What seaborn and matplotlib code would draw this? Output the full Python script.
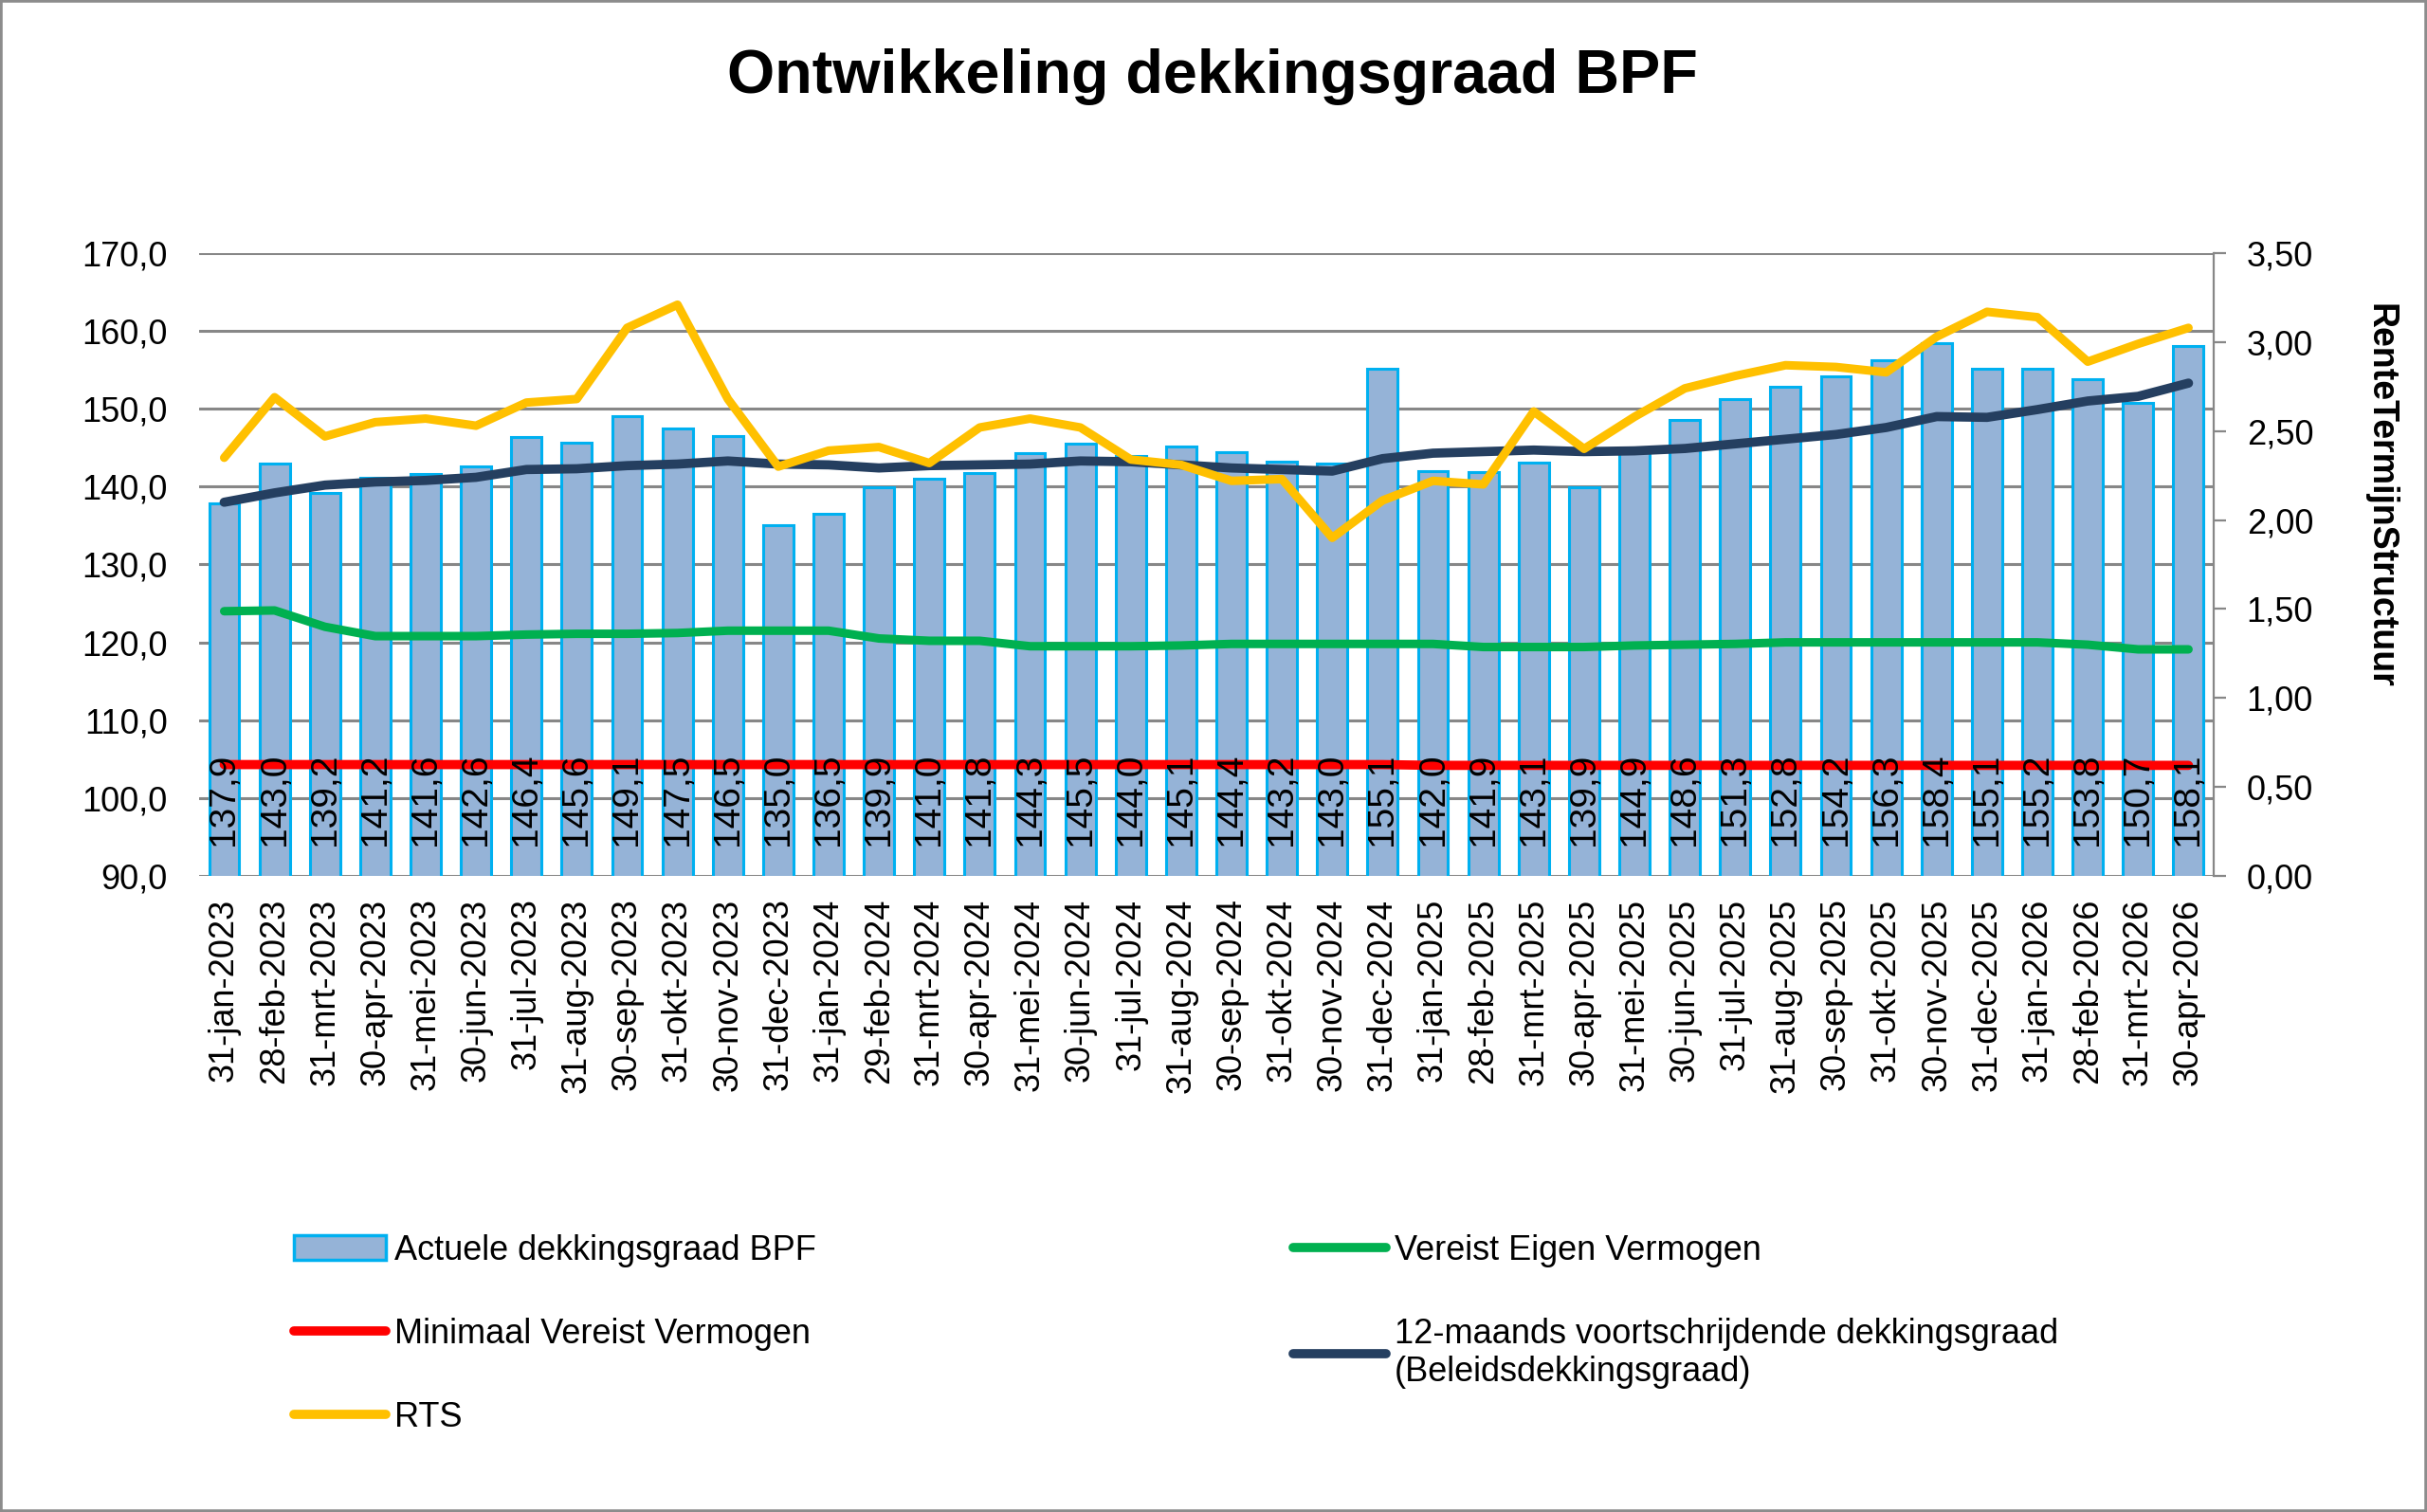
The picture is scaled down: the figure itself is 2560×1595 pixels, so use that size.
import matplotlib
matplotlib.use("Agg")
import matplotlib.pyplot as plt
import numpy as np
import pandas as pd
import seaborn as sns
from matplotlib.lines import Line2D
from matplotlib.patches import Patch, Rectangle
from matplotlib.ticker import FuncFormatter

# ---------------------------------------------------------------------------
# Data
# ---------------------------------------------------------------------------

dates = [
    "31-jan-2023", "28-feb-2023", "31-mrt-2023", "30-apr-2023", "31-mei-2023",
    "30-jun-2023", "31-jul-2023", "31-aug-2023", "30-sep-2023", "31-okt-2023",
    "30-nov-2023", "31-dec-2023", "31-jan-2024", "29-feb-2024", "31-mrt-2024",
    "30-apr-2024", "31-mei-2024", "30-jun-2024", "31-jul-2024", "31-aug-2024",
    "30-sep-2024", "31-okt-2024", "30-nov-2024", "31-dec-2024", "31-jan-2025",
    "28-feb-2025", "31-mrt-2025", "30-apr-2025", "31-mei-2025", "30-jun-2025",
    "31-jul-2025", "31-aug-2025", "30-sep-2025", "31-okt-2025", "30-nov-2025",
    "31-dec-2025", "31-jan-2026", "28-feb-2026", "31-mrt-2026", "30-apr-2026",
]

actueel = [
    137.9, 143.0, 139.2, 141.2, 141.6, 142.6, 146.4, 145.6, 149.1, 147.5,
    146.5, 135.0, 136.5, 139.9, 141.0, 141.8, 144.3, 145.5, 144.0, 145.1,
    144.4, 143.2, 143.0, 155.1, 142.0, 141.9, 143.1, 139.9, 144.9, 148.6,
    151.3, 152.8, 154.2, 156.3, 158.4, 155.1, 155.2, 153.8, 150.7, 158.1,
]

beleid = [
    138.0, 139.2, 140.2, 140.6, 140.8, 141.2, 142.2, 142.3, 142.7, 142.9,
    143.3, 142.9, 142.8, 142.4, 142.7, 142.8, 142.9, 143.3, 143.2, 142.8,
    142.4, 142.2, 142.0, 143.6, 144.3, 144.5, 144.7, 144.5, 144.6, 144.9,
    145.5, 146.1, 146.7, 147.6, 149.0, 148.9, 149.9, 151.0, 151.6, 153.3,
]

vereist = [
    124.0, 124.1, 122.0, 120.8, 120.8, 120.8, 121.0, 121.1, 121.1, 121.2,
    121.5, 121.5, 121.5, 120.5, 120.2, 120.2, 119.5, 119.5, 119.5, 119.6,
    119.8, 119.8, 119.8, 119.8, 119.8, 119.4, 119.4, 119.4, 119.6, 119.7,
    119.8, 120.0, 120.0, 120.0, 120.0, 120.0, 120.0, 119.7, 119.1, 119.1,
]

minimaal = [
    104.3, 104.3, 104.3, 104.3, 104.3, 104.3, 104.3, 104.3, 104.3, 104.3,
    104.3, 104.3, 104.3, 104.3, 104.3, 104.3, 104.3, 104.3, 104.3, 104.3,
    104.3, 104.3, 104.3, 104.3, 104.2, 104.2, 104.2, 104.2, 104.2, 104.2,
    104.2, 104.2, 104.2, 104.2, 104.2, 104.2, 104.2, 104.2, 104.2, 104.2,
]

rts = [
    2.35, 2.69, 2.47, 2.55, 2.57, 2.53, 2.66, 2.68, 3.08, 3.21,
    2.68, 2.30, 2.39, 2.41, 2.32, 2.52, 2.57, 2.52, 2.34, 2.31,
    2.22, 2.23, 1.90, 2.11, 2.22, 2.20, 2.61, 2.40, 2.58, 2.74,
    2.81, 2.87, 2.86, 2.83, 3.03, 3.17, 3.14, 2.89, 2.99, 3.08,
]

left_ticks = [90, 100, 110, 120, 130, 140, 150, 160, 170]
right_ticks = [0.0, 0.5, 1.0, 1.5, 2.0, 2.5, 3.0, 3.5]

BAR_FILL = "#95B3D7"
BAR_EDGE = "#00B0F0"
GREEN = "#00B050"
RED = "#FF0000"
NAVY = "#253F60"
YELLOW = "#FFC000"
GRID = "#878787"


def comma(fmt):
    return FuncFormatter(lambda v, _: format(v, fmt).replace(".", ","))


# ---------------------------------------------------------------------------
# Figure
# ---------------------------------------------------------------------------

sns.set_style("white")
plt.rcParams["font.family"] = ["Liberation Sans", "DejaVu Sans"]
plt.rcParams.update({
    "text.color": "black",
    "axes.labelcolor": "black",
    "xtick.color": "black",
    "ytick.color": "black",
})

df = pd.DataFrame({
    "datum": dates,
    "actueel": actueel,
    "beleid": beleid,
    "vereist": vereist,
    "minimaal": minimaal,
    "rts": rts,
})
df["pos"] = np.arange(len(df))

fig = plt.figure(figsize=(25.6, 15.95), dpi=100)
ax = fig.add_axes([0.0820, 0.4207, 0.8301, 0.4119])

sns.barplot(
    data=df, x="datum", y="actueel", color=BAR_FILL, saturation=1,
    edgecolor=BAR_EDGE, linewidth=2.2, width=0.6, ax=ax,
)

line_kw = dict(solid_capstyle="round", solid_joinstyle="round", legend=False)
sns.lineplot(data=df, x="pos", y="vereist", color=GREEN, lw=6.5, ax=ax, **line_kw)
sns.lineplot(data=df, x="pos", y="minimaal", color=RED, lw=7, ax=ax, **line_kw)
sns.lineplot(data=df, x="pos", y="beleid", color=NAVY, lw=7, ax=ax, **line_kw)

# value labels inside the bars
for i, v in enumerate(df["actueel"]):
    ax.text(i, 93.9, format(v, ".1f").replace(".", ","), rotation=90,
            ha="center", va="bottom", fontsize=28, color="black", zorder=5)

ax.set_xlim(-0.5, len(df) - 0.5)
ax.set_ylim(90, 170)
ax.set_yticks(left_ticks)
ax.yaxis.set_major_formatter(comma(".1f"))
ax.set_xticks(df["pos"])
ax.set_xticklabels(dates, rotation=90)
ax.set_xlabel("")
ax.set_ylabel("")
ax.set_axisbelow(True)
ax.grid(axis="y", color=GRID, lw=2.2)
ax.grid(axis="x", visible=False)
ax.tick_params(axis="y", labelsize=26, length=0, pad=24, labelcolor="black")
ax.tick_params(axis="x", labelsize=26, length=0, pad=17, labelcolor="black")
for side in ax.spines:
    ax.spines[side].set_visible(False)

# secondary axis: RenteTermijnStructuur
ax2 = ax.twinx()
sns.lineplot(data=df, x="pos", y="rts", color=YELLOW, lw=6.5, ax=ax2, **line_kw)
ax2.set_ylim(0, 3.5)
ax2.set_yticks(right_ticks)
ax2.yaxis.set_major_formatter(comma(".2f"))
ax2.set_xlim(-0.5, len(df) - 0.5)
ax2.set_ylabel("")
ax2.grid(False)
for side in ax2.spines:
    ax2.spines[side].set_visible(side == "right")
ax2.spines["right"].set_color(GRID)
ax2.spines["right"].set_linewidth(1.6)
ax2.tick_params(axis="y", right=True, direction="out", length=9, width=1.6,
                color=GRID, labelsize=26, pad=16, labelcolor="black")

fig.text(0.9805, 0.672, "RenteTermijnStructuur", rotation=270, ha="center",
         va="center", fontsize=27, fontweight="bold", color="black")
fig.text(0.4996, 0.949, "Ontwikkeling dekkingsgraad BPF", ha="center",
         va="center", fontsize=46.5, fontweight="bold", color="black")

# legend in two columns below the chart
leg_kw = dict(loc="upper left", frameon=False, fontsize=26, borderpad=0,
              borderaxespad=0, handlelength=2.7, handletextpad=0.25,
              labelspacing=1.47, handleheight=0.75, labelcolor="black")
col1 = [
    Patch(facecolor=BAR_FILL, edgecolor=BAR_EDGE, lw=2.5),
    Line2D([0], [0], color=RED, lw=7, solid_capstyle="round"),
    Line2D([0], [0], color=YELLOW, lw=7, solid_capstyle="round"),
]
col2 = [
    Line2D([0], [0], color=GREEN, lw=7, solid_capstyle="round"),
    Line2D([0], [0], color=NAVY, lw=7, solid_capstyle="round"),
]
fig.legend(col1, ["Actuele dekkingsgraad BPF", "Minimaal Vereist Vermogen", "RTS"],
           bbox_to_anchor=(0.121, 0.184), **leg_kw)
fig.legend(col2, ["Vereist Eigen Vermogen",
                  "12-maands voortschrijdende dekkingsgraad\n(Beleidsdekkingsgraad)"],
           bbox_to_anchor=(0.533, 0.184), **leg_kw)

fig.patches.append(Rectangle((0, 0), 1, 1, transform=fig.transFigure, fill=False,
                             edgecolor="#8C8C8C", lw=4))

fig.savefig("out.png", dpi=100)
